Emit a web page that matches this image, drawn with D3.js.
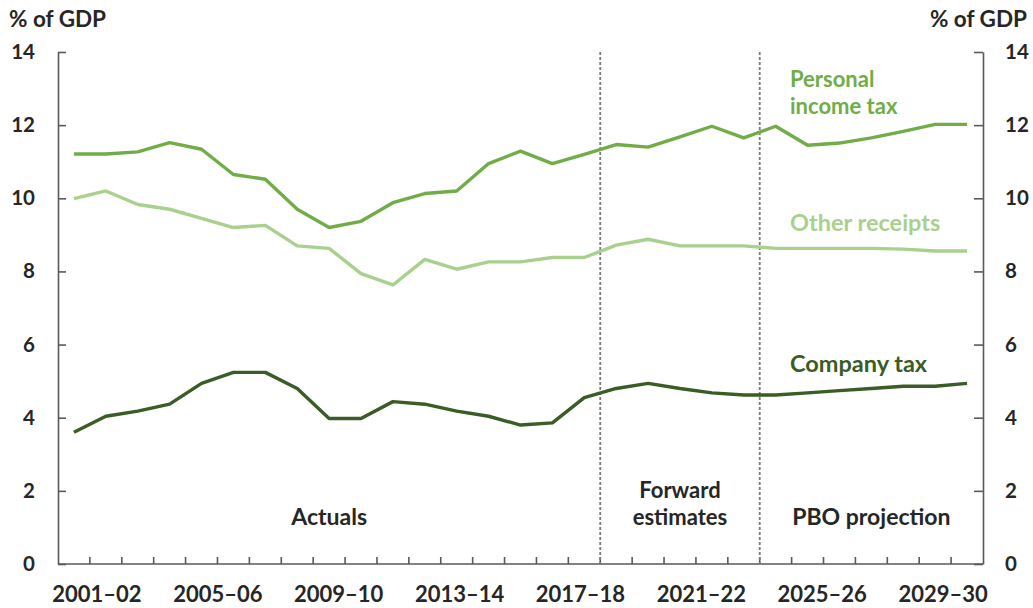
<!DOCTYPE html>
<html>
<head>
<meta charset="utf-8">
<script src="https://cdn.jsdelivr.net/npm/d3@7"></script>
<style>
  body { margin: 0; background: #fff; }
  svg { display: block; font-family: Lato, 'Open Sans', sans-serif; font-weight: 700; }
</style>
</head>
<body>
<svg class="canvas" width="1033" height="608"></svg>
<script>
'use strict'

const years = [
  '2001–02', '2002–03', '2003–04', '2004–05', '2005–06', '2006–07', '2007–08',
  '2008–09', '2009–10', '2010–11', '2011–12', '2012–13', '2013–14', '2014–15',
  '2015–16', '2016–17', '2017–18', '2018–19', '2019–20', '2020–21', '2021–22',
  '2022–23', '2023–24', '2024–25', '2025–26', '2026–27', '2027–28', '2028–29',
  '2029–30'
]
const tickLabels = ['2001–02', '2005–06', '2009–10', '2013–14', '2017–18', '2021–22', '2025–26', '2029–30']
const yTicks = [0, 2, 4, 6, 8, 10, 12, 14]

const personalIncomeTax = [
  11.21, 11.21, 11.27, 11.52, 11.34, 10.65, 10.52, 9.70, 9.20, 9.37,
  9.88, 10.13, 10.20, 10.95, 11.29, 10.95, 11.20, 11.47, 11.40, 11.68,
  11.97, 11.65, 11.97, 11.45, 11.51, 11.65, 11.83, 12.02, 12.02
]
const otherReceipts = [
  9.99, 10.20, 9.83, 9.70, 9.45, 9.20, 9.26, 8.70, 8.63, 7.94,
  7.63, 8.33, 8.06, 8.26, 8.26, 8.38, 8.38, 8.72, 8.88, 8.70,
  8.70, 8.70, 8.63, 8.63, 8.63, 8.63, 8.61, 8.56, 8.56
]
const companyTax = [
  3.60, 4.04, 4.18, 4.37, 4.94, 5.24, 5.24, 4.80, 3.98, 3.98,
  4.44, 4.37, 4.18, 4.04, 3.80, 3.86, 4.55, 4.80, 4.94, 4.80,
  4.68, 4.62, 4.62, 4.68, 4.74, 4.80, 4.86, 4.86, 4.94
]

// period boundaries: first year of forward estimates, first year of projection
const periodStarts = ['2018–19', '2023–24']

const series = [
  { name: ['Personal', 'income tax'], values: personalIncomeTax, color: '#70ad47', labelAt: 13.04 },
  { name: ['Other receipts'], values: otherReceipts, color: '#a9d18e', labelAt: 9.11 },
  { name: ['Company tax'], values: companyTax, color: '#3a5c25', labelAt: 5.26 }
]

const width = 1033, height = 608
const margin = { top: 52, right: 50, bottom: 44, left: 58 }
const lineGap = 26.5

const svg = d3.select('.canvas')

const x = d3.scaleBand()
  .domain(years)
  .range([margin.left, width - margin.right])
const y = d3.scaleLinear()
  .domain([0, 14])
  .range([height - margin.bottom, margin.top])

const cx = d => x(d) + x.bandwidth() / 2

// Axes.
const axisColor = '#595959', textColor = '#262626'

const left = svg.append('g')
  .attr('transform', `translate(${margin.left},0)`)
  .call(d3.axisLeft(y).tickValues(yTicks).tickSize(-8).tickSizeOuter(0).tickPadding(23))
const right = svg.append('g')
  .attr('transform', `translate(${width - margin.right},0)`)
  .call(d3.axisRight(y).tickValues(yTicks).tickSize(-9).tickSizeOuter(0).tickPadding(22))
;[left, right].forEach(g => {
  g.selectAll('path, line').attr('stroke', axisColor).attr('stroke-width', 1.6)
  g.selectAll('text').attr('fill', textColor).style('font-size', '20.5px')
    .style('font-family', 'Lato, sans-serif').style('font-weight', 700)
})

// Bottom axis line and ticks at category boundaries.
const bottom = svg.append('g')
bottom.append('line')
  .attr('x1', margin.left).attr('x2', width - margin.right)
  .attr('y1', y(0)).attr('y2', y(0))
  .attr('stroke', axisColor).attr('stroke-width', 1.6)
bottom.selectAll('.xtick')
  .data(years.slice(1))
  .enter()
  .append('line')
  .attr('class', 'xtick')
  .attr('x1', d => x(d)).attr('x2', d => x(d))
  .attr('y1', y(0)).attr('y2', y(0) - 7)
  .attr('stroke', axisColor).attr('stroke-width', 1.6)

// Tick labels, spread a little tighter than the categories as in the original.
const labelScale = d3.scalePoint()
  .domain(tickLabels)
  .range([cx(years[0]) + 23, cx(years[years.length - 1]) - 24])
bottom.selectAll('.xlabel')
  .data(tickLabels)
  .enter()
  .append('text')
  .attr('class', 'xlabel')
  .attr('x', d => labelScale(d))
  .attr('y', y(0) + 38)
  .attr('text-anchor', 'middle')
  .attr('fill', textColor)
  .style('font-size', '22px')
  .text(d => d)

// Axis titles.
svg.append('text')
  .attr('x', 9).attr('y', 27)
  .attr('fill', textColor)
  .style('font-size', '22.5px')
  .text('% of GDP')
svg.append('text')
  .attr('x', width - 6).attr('y', 27)
  .attr('text-anchor', 'end')
  .attr('fill', textColor)
  .style('font-size', '22.5px')
  .text('% of GDP')

// Period dividers.
svg.selectAll('.divider')
  .data(periodStarts)
  .enter()
  .append('line')
  .attr('class', 'divider')
  .attr('x1', d => x(d)).attr('x2', d => x(d))
  .attr('y1', y(14)).attr('y2', y(0))
  .attr('stroke', '#7a7a7a')
  .attr('stroke-width', 1.8)
  .attr('stroke-dasharray', '3,2')

// Period labels, centred in each period.
const bounds = [margin.left, x(periodStarts[0]), x(periodStarts[1]), width - margin.right]
const periods = [
  { lines: ['Actuals'], from: 0 },
  { lines: ['Forward', 'estimates'], from: 1 },
  { lines: ['PBO projection'], from: 2 }
]
periods.forEach(p => {
  p.lines.forEach((line, i) => {
    svg.append('text')
      .attr('text-anchor', 'middle')
      .attr('fill', textColor)
      .style('font-size', p.lines.length > 1 ? '22px' : '23px')
      .attr('x', (bounds[p.from] + bounds[p.from + 1]) / 2)
      .attr('y', y(1.08) - (p.lines.length - 1 - i) * lineGap)
      .text(line)
  })
})

// Lines.
const line = d3.line()
  .x((d, i) => cx(years[i]))
  .y(d => y(d))

svg.selectAll('.series')
  .data(series)
  .enter()
  .append('path')
  .attr('class', 'series')
  .attr('d', s => line(s.values))
  .attr('fill', 'none')
  .attr('stroke', s => s.color)
  .attr('stroke-width', 3.4)
  .attr('stroke-linejoin', 'round')

// Series labels.
series.forEach(s => {
  s.name.forEach((n, i) => {
    svg.append('text')
      .attr('fill', s.color)
      .style('font-size', s.name.length > 1 ? '22px' : '23.5px')
      .attr('x', 790)
      .attr('y', y(s.labelAt) + i * lineGap)
      .text(n)
  })
})
</script>
</body>
</html>
